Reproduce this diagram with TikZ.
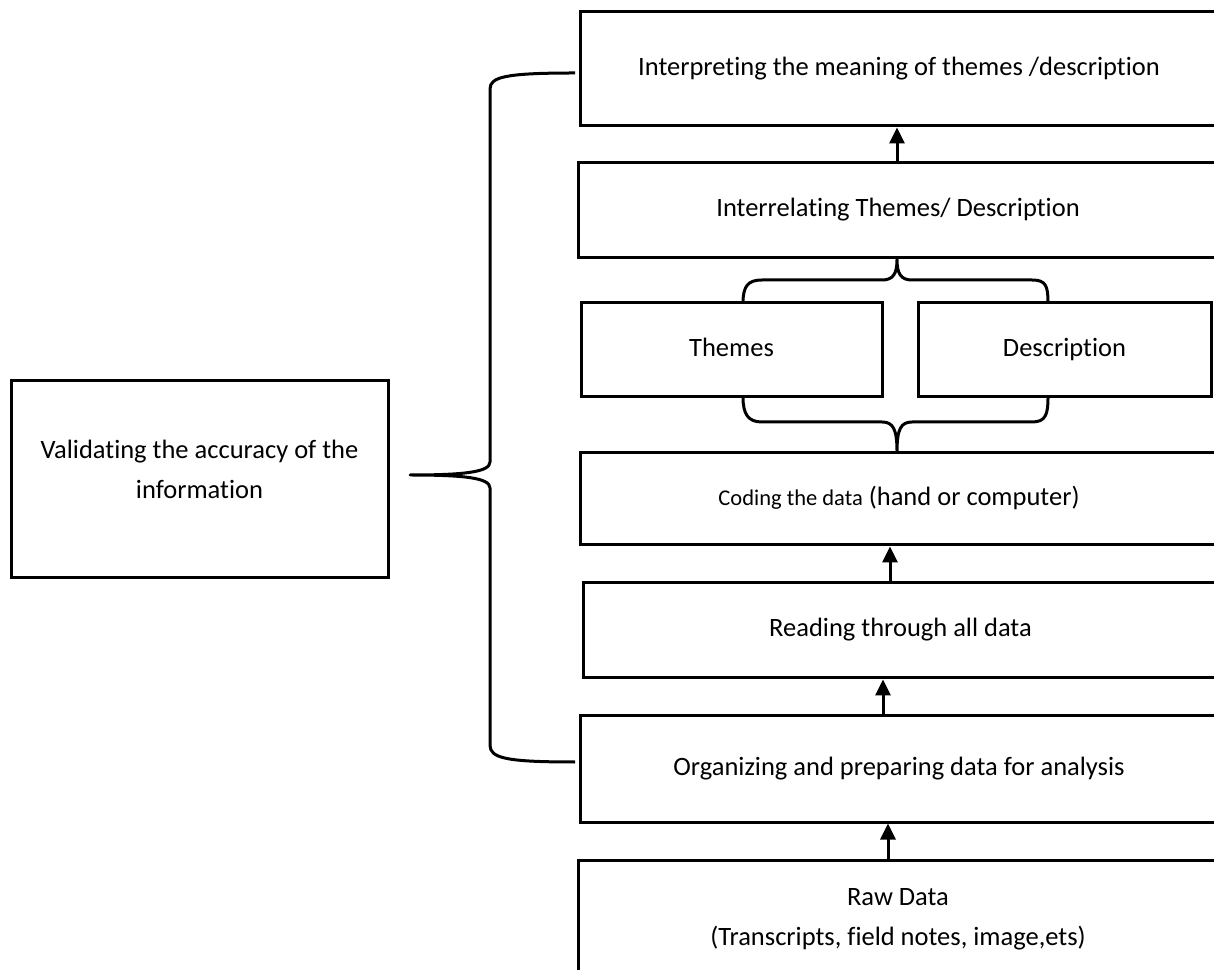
\documentclass[tikz,border=0pt]{standalone}
\usepackage{fontspec}
\setmainfont{Carlito}[RawFeature=-liga]
\usetikzlibrary{arrows.meta}
\begin{document}
\begin{tikzpicture}[x=1pt,y=1pt,
  box/.style={draw, line width=3pt, inner sep=0pt, align=center,
    font=\fontsize{26.5}{40}\selectfont},
  oneline/.style={text height=18pt, text depth=5pt},
  label text/.style={inner sep=0pt, align=center, font=\fontsize{26.5}{40}\selectfont},
  arr/.style={line width=3pt, -{Triangle[width=15pt,length=16pt]}},
  brace/.style={line width=3pt, line join=round}]
\useasboundingbox (0,0) rectangle (1214,969);

% main column of stages (right edges run past the page edge)
\node[box, oneline, minimum width=638, minimum height=114] (interp) at (899,900)
  {Interpreting the meaning of themes /description};
\node[box, oneline, minimum width=640, minimum height=95] (interrel) at (898,758.5)
  {Interrelating Themes/ Description};
\node[box, oneline, minimum width=301, minimum height=94] (themes) at (731.5,619)
  {Themes};
\node[box, oneline, minimum width=293, minimum height=94] (desc) at (1064.5,619)
  {Description};
\node[box, oneline, minimum width=638, minimum height=92] (coding) at (899,470)
  {{\fontsize{22.5}{26}\selectfont Coding the data} (hand or computer)};
\node[box, oneline, minimum width=635, minimum height=95] (reading) at (900.5,338.5)
  {Reading through all data};
\node[box, oneline, minimum width=638, minimum height=106] (organ) at (899,200)
  {Organizing and preparing data for analysis};
\node[box, minimum width=640, minimum height=118] (raw) at (898,50)
  {Raw Data\\(Transcripts, field notes, image,ets)};

% validation box on the left, its text set a little above centre
\node[box, minimum width=377, minimum height=197] (valid) at (199.5,489.5) {};
\node[label text] (validtext) at ([yshift=10pt]valid.center)
  {Validating the accuracy of the\\information};

% arrows between stages
\draw[arr] (raw.north -| 888,0) -- (organ.south -| 888,0);
\draw[arr] (organ.north -| 883,0) -- (reading.south -| 883,0);
\draw[arr] (reading.north -| 890,0) -- (coding.south -| 890,0);
\draw[arr] (interrel.north -| 897,0) -- (interp.south -| 897,0);

% brace above Themes / Description
\coordinate (tipA) at (interrel.south -| 897,0);
\draw[brace] (743,666) .. controls (743,683) and (748,689) .. (762,689)
  -- (882,689) .. controls (893,689) and (897,695) .. (tipA)
  .. controls (897,695) and (901,689) .. (912,689)
  -- (1032,689) .. controls (1046,689) and (1048,683) .. (1048,666);

% brace below Themes / Description
\coordinate (tipB) at (coding.north -| 897,0);
\draw[brace] (743,572) .. controls (743,555) and (748,547) .. (762,547)
  -- (882,547) .. controls (893,547) and (897,540) .. (tipB)
  .. controls (897,540) and (901,547) .. (912,547)
  -- (1032,547) .. controls (1046,547) and (1048,555) .. (1048,572);

% large brace joining the validation box to the stages
\coordinate (btop) at (575,896);
\coordinate (bbot) at (575,207);
\coordinate (btip) at (410,494);
\draw[brace] (btop) .. controls (505,896) and (490,892) .. (490,880)
  -- (490,507) .. controls (490,497) and (465,494) .. (btip)
  .. controls (465,494) and (490,491) .. (490,481)
  -- (490,224) .. controls (490,211) and (505,207) .. (bbot);
\end{tikzpicture}
\end{document}
